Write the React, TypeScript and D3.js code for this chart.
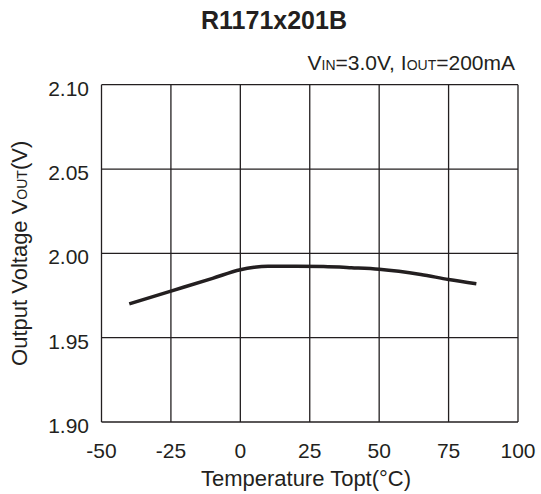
import React from 'react';
import * as d3 from 'd3';

const width = 541;
const height = 494;
const plot = { left: 101.5, right: 518, top: 84.7, bottom: 422 };

const xTicks = [-50, -25, 0, 25, 50, 75, 100];
const yTicks = [1.90, 1.95, 2.00, 2.05, 2.10];
const yTickLabels = ['1.90', '1.95', '2.00', '2.05', '2.10'];

const temps = [-40, -25, -10, 0, 5, 10, 20, 30, 40, 50, 65, 75, 85];
const vout = [1.970, 1.9776, 1.9852, 1.9903, 1.9917, 1.9923, 1.9924, 1.9922, 1.9915, 1.9906, 1.9875, 1.9845, 1.982];

const font = '"Liberation Sans", Arial, sans-serif';
const ink = '#231f20';

export default function App() {
  const x = d3.scaleLinear().domain([-50, 100]).range([plot.left, plot.right]);
  const y = d3.scaleLinear().domain([1.90, 2.10]).range([plot.bottom, plot.top]);

  const line = d3.line<number>()
    .x((d, i) => x(temps[i]))
    .y(d => y(d))
    .curve(d3.curveMonotoneX);

  return (
    <svg width={width} height={height} style={{ position: 'absolute', left: 0, top: 0, background: '#fff' }}
      fontFamily={font} fill={ink}>
      <text x={274} y={29} textAnchor="middle" fontSize={25} fontWeight="bold">R1171x201B</text>
      <text x={515} y={70} textAnchor="end" fontSize={21}>
        V<tspan fontSize={14}>IN</tspan>=3.0V, I<tspan fontSize={14}>OUT</tspan>=200mA
      </text>

      {/* grid */}
      {xTicks.map(t => (
        <line key={'gx' + t} x1={x(t)} x2={x(t)} y1={plot.top} y2={plot.bottom} stroke={ink} strokeWidth={1.3} />
      ))}
      {yTicks.map(t => (
        <line key={'gy' + t} x1={plot.left} x2={plot.right} y1={y(t)} y2={y(t)} stroke={ink} strokeWidth={1.3} />
      ))}

      {/* tick labels */}
      {xTicks.map(t => (
        <text key={'tx' + t} x={x(t)} y={458} textAnchor="middle" fontSize={21}>{t}</text>
      ))}
      {yTicks.map((t, i) => (
        <text key={'ty' + t} x={89} y={y(t) + 11} textAnchor="end" fontSize={21}>{yTickLabels[i]}</text>
      ))}

      <path d={line(vout) || ''} fill="none" stroke={ink} strokeWidth={3.5} />

      <text x={306} y={486} textAnchor="middle" fontSize={22}>Temperature Topt(°C)</text>
      <text transform={`translate(27,${(plot.top + plot.bottom) / 2}) rotate(-90)`} textAnchor="middle" fontSize={22}>
        Output Voltage V<tspan fontSize={14}>OUT</tspan>(V)
      </text>
    </svg>
  );
}
